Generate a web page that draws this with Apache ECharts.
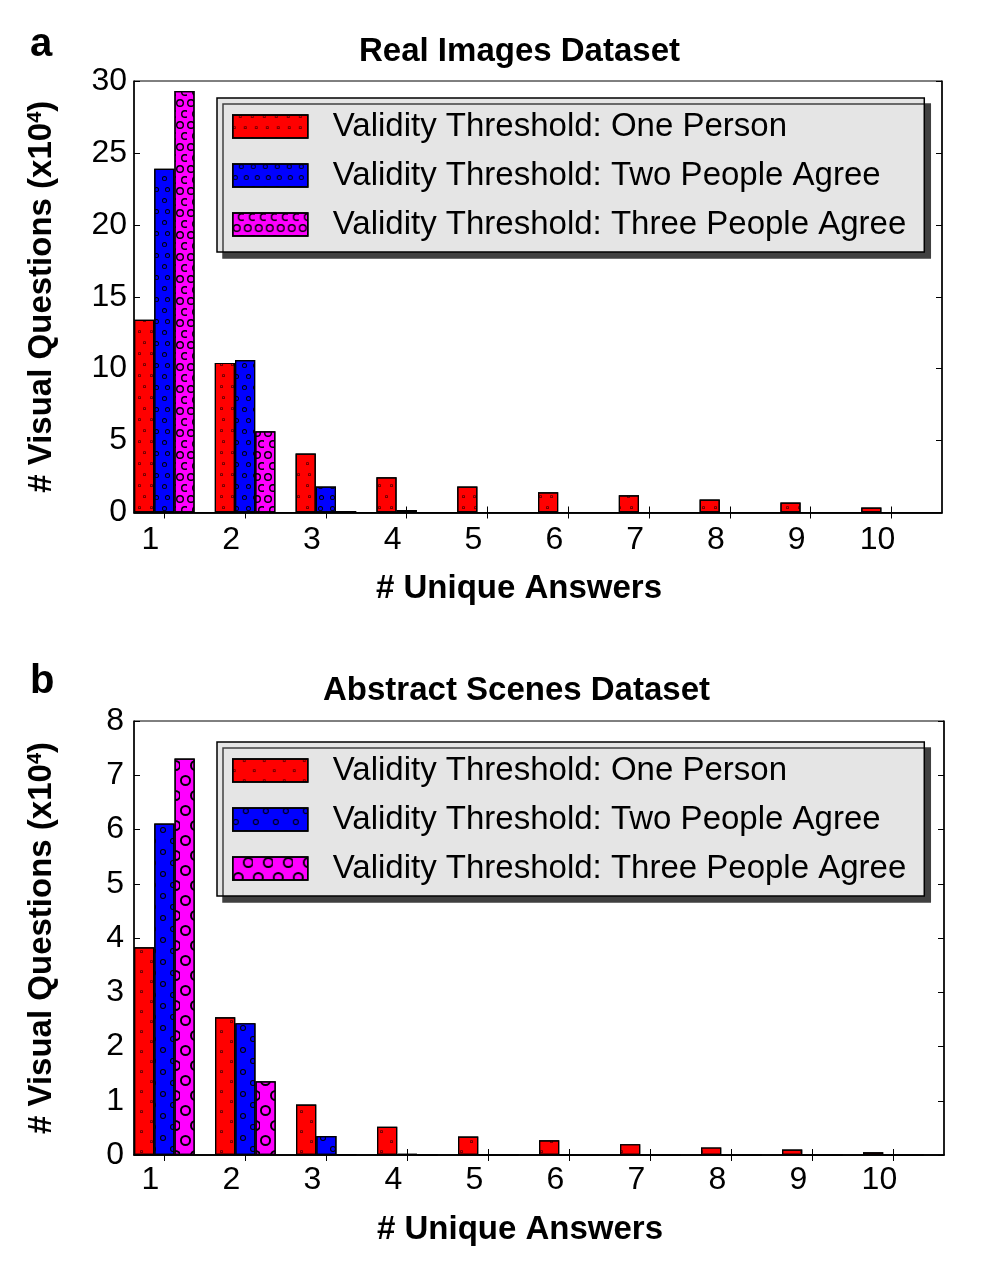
<!DOCTYPE html>
<html>
<head>
<meta charset="utf-8">
<script src="https://cdn.jsdelivr.net/npm/echarts@6/dist/echarts.min.js"></script>
<style>
  html, body { margin: 0; padding: 0; background: #fff; }
  .chart { width: 997px; }
  #chartA { height: 640px; }
  #chartB { height: 628px; }
</style>
</head>
<body>
<div id="chartA" class="chart"></div>
<div id="chartB" class="chart"></div>
<script>
// data (units: x10^4 visual questions)
var seriesNames = [
  'Validity Threshold: One Person',
  'Validity Threshold: Two People Agree',
  'Validity Threshold: Three People Agree'
];
var answerTicks = ['1', '2', '3', '4', '5', '6', '7', '8', '9', '10'];

var realOne   = [13.4, 10.4, 4.1, 2.45, 1.8, 1.4, 1.2, 0.9, 0.7, 0.35];
var realTwo   = [23.9, 10.6, 1.8, 0.17, 0, 0, 0, 0, 0, 0];
var realThree = [29.3, 5.65, 0.1, 0, 0, 0, 0, 0, 0, 0];

var abstractOne   = [3.83, 2.54, 0.93, 0.52, 0.34, 0.27, 0.2, 0.14, 0.1, 0.05];
var abstractTwo   = [6.11, 2.43, 0.35, 0.02, 0, 0, 0, 0, 0, 0];
var abstractThree = [7.31, 1.36, 0.01, 0, 0, 0, 0, 0, 0, 0];

var realYTicks = [0, 5, 10, 15, 20, 25, 30];
var abstractYTicks = [0, 1, 2, 3, 4, 5, 6, 7, 8];

var FONT = '"Liberation Sans", Arial, Helvetica, sans-serif';
var colors = ['#ff0000', '#0000ff', '#ff00ff'];
// hollow circle used for the hatch dots
var RING = 'path://M10,0 A10,10 0 1,1 10,20 A10,10 0 1,1 10,0 Z M10,3.5 A6.5,6.5 0 1,0 10,16.5 A6.5,6.5 0 1,0 10,3.5 Z';

function decal(size, dx, dy, shift) {
  return {
    symbol: RING, symbolSize: 1, color: '#000',
    dashArrayX: [[size, dx], [0, shift, size, dx - shift]],
    dashArrayY: [size, dy]
  };
}

function buildOption(c) {
  var slots = [];
  c.ticks.forEach(function (t) { slots.push(t + 'a', t, t + 'c', t + 'd'); });
  var shown = function (i) { return i % 4 === 1; };

  var series = c.values.map(function (vals, s) {
    var data = slots.map(function () { return '-'; });
    vals.forEach(function (v, k) { data[4 * k + s] = v; });
    return {
      name: seriesNames[s], type: 'bar', data: data,
      barGap: '-100%', barCategoryGap: '0%',
      itemStyle: { color: colors[s], borderColor: '#000', borderWidth: 1.2, decal: c.decals[s] }
    };
  });

  var line = { show: true, lineStyle: { color: '#000', width: 1.5 } };
  var tick = { show: true, inside: true, length: 6, lineStyle: { color: '#000', width: 1 } };
  var yBase = {
    type: 'value', min: c.yTicks[0], max: c.yTicks[c.yTicks.length - 1],
    interval: c.yTicks[1] - c.yTicks[0],
    axisLine: line, axisTick: tick, splitLine: { show: false }
  };
  var xBase = {
    type: 'category', data: slots, boundaryGap: true,
    axisLine: line,
    axisTick: { show: true, inside: true, length: 6, interval: shown, alignWithLabel: true, lineStyle: { color: '#000', width: 1 } },
    splitLine: { show: false }
  };

  return {
    animation: false,
    textStyle: { fontFamily: FONT, color: '#000' },
    title: [
      { text: c.letter, left: 30, top: c.letterTop, padding: 0,
        textStyle: { fontSize: 40, fontWeight: 'bold', color: '#000', fontFamily: FONT } },
      { text: c.title, left: c.titleLeft, top: c.titleTop, padding: 0,
        textStyle: { fontSize: 33, fontWeight: 'bold', color: '#000', fontFamily: FONT } }
    ],
    legend: {
      orient: 'vertical', left: 217, top: c.legendTop, data: seriesNames,
      icon: 'rect', itemWidth: 75, itemHeight: 23, itemGap: 16,
      padding: [12, 18, 11, 15],
      backgroundColor: '#e5e5e5', borderColor: '#000', borderWidth: 1.5,
      shadowColor: '#404040', shadowOffsetX: 6, shadowOffsetY: 6, shadowBlur: 0,
      selectedMode: false,
      itemStyle: { borderColor: '#000', borderWidth: 1.5 },
      textStyle: { fontSize: 33, color: '#000', padding: [0, 0, 0, 20], fontFamily: FONT }
    },
    grid: { left: 134, right: c.gridRight, top: c.gridTop, height: c.gridHeight,
      show: true, borderColor: '#000', borderWidth: 1, backgroundColor: '#fff' },
    xAxis: [
      Object.assign({}, xBase, {
        position: 'bottom',
        axisLabel: { interval: shown, fontSize: 32, color: '#000', margin: c.xLabelMargin,
          padding: [0, 28, 0, 0], fontFamily: FONT },
        name: '# Unique Answers', nameLocation: 'middle', nameGap: c.xNameGap,
        nameTextStyle: { fontSize: 33, fontWeight: 'bold', color: '#000', padding: [0, 38, 0, 0], fontFamily: FONT }
      }),
      Object.assign({}, xBase, { position: 'top', axisLabel: { show: false } })
    ],
    yAxis: [
      Object.assign({}, yBase, {
        position: 'left',
        axisLabel: { fontSize: 32, color: '#000', margin: c.yLabelMargin, fontFamily: FONT },
        name: '{m|# Visual Questions (x10}{s|4}{m|)}',
        nameLocation: 'middle', nameGap: 76, nameRotate: 90,
        nameTextStyle: { rich: {
          m: { fontSize: 33, fontWeight: 'bold', color: '#000', fontFamily: FONT },
          s: { fontSize: 20, fontWeight: 'bold', color: '#000', verticalAlign: 'top', fontFamily: FONT }
        } }
      }),
      Object.assign({}, yBase, { position: 'right', axisLabel: { show: false } })
    ],
    series: series
  };
}

var chartA = echarts.init(document.getElementById('chartA'));
chartA.setOption(buildOption({
  letter: 'a', letterTop: 25, title: 'Real Images Dataset', titleLeft: 359, titleTop: 35,
  legendTop: 98, gridTop: 81, gridHeight: 431.5, gridRight: 55,
  xLabelMargin: 12, xNameGap: 60, yLabelMargin: 7,
  ticks: answerTicks, yTicks: realYTicks,
  values: [realOne, realTwo, realThree],
  decals: [decal(3, 8, 8, 5.5), decal(5, 6, 6, 5.5), decal(8, 2.2, 2.5, 5)]
}));

var chartB = echarts.init(document.getElementById('chartB'));
chartB.setOption(buildOption({
  letter: 'b', letterTop: 22, title: 'Abstract Scenes Dataset', titleLeft: 323, titleTop: 34,
  legendTop: 102, gridTop: 81, gridHeight: 434, gridRight: 53,
  xLabelMargin: 9, xNameGap: 58, yLabelMargin: 10,
  ticks: answerTicks, yTicks: abstractYTicks,
  values: [abstractOne, abstractTwo, abstractThree],
  decals: [decal(3, 17, 7, 10), decal(6, 14, 5, 10), decal(11, 9, 4, 10)]
}));
</script>
</body>
</html>
